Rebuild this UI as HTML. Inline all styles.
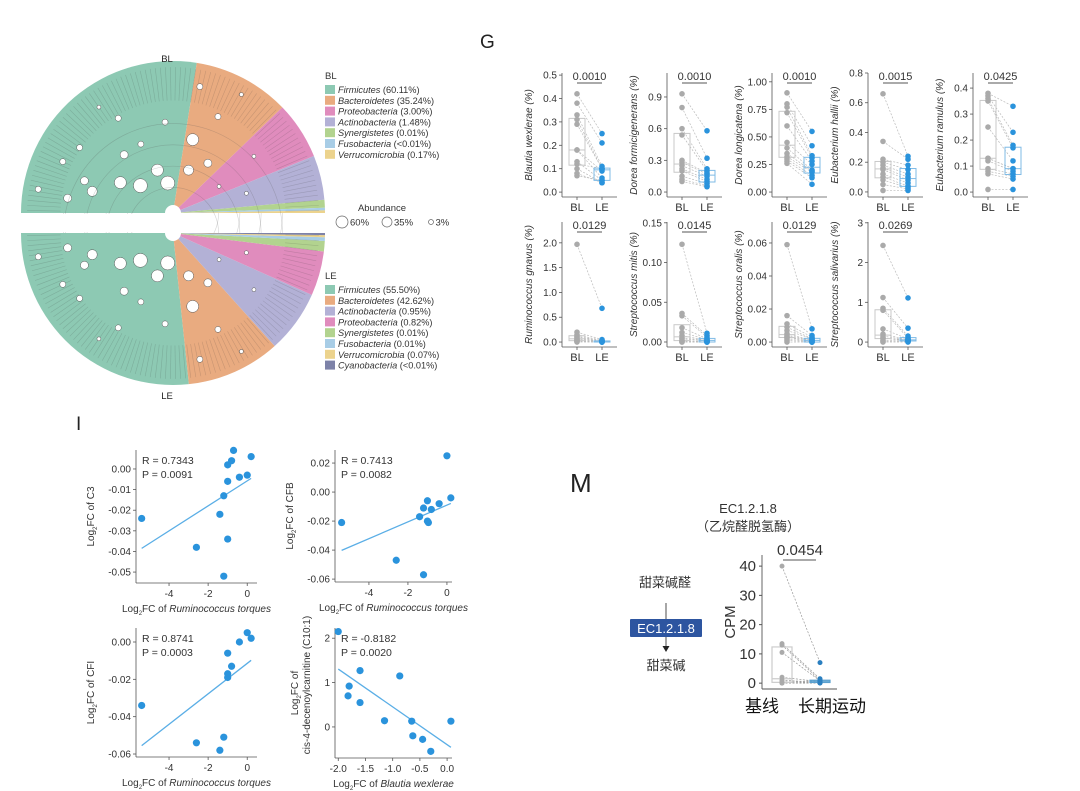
<!DOCTYPE html>
<html><head><meta charset="utf-8">
<style>
body{margin:0;background:#fff;}
svg{display:block;font-family:"Liberation Sans","Noto Sans CJK SC",sans-serif;}
</style></head>
<body>
<svg id="fig" width="1080" height="791" viewBox="0 0 1080 791" xmlns="http://www.w3.org/2000/svg">
<rect width="1080" height="791" fill="#fff"/>
<g id="tree"></g>
<g id="treeLegend"></g>
<text x="480" y="48" font-size="19" fill="#222">G</text>
<g id="panelG"></g>
<text x="76" y="430" font-size="19" fill="#222">I</text>
<g id="panelI"></g>
<text x="570" y="492" font-size="26" fill="#222">M</text>
<g id="panelM"></g>
</svg>
<script>
const NS="http://www.w3.org/2000/svg";
function mk(tag,attrs,parent,text){const e=document.createElementNS(NS,tag);for(const k in attrs)e.setAttribute(k,attrs[k]);if(text!==undefined)e.textContent=text;parent.appendChild(e);return e;}

// ---------- Tree data ----------
const blPhyla=["Firmicutes","Bacteroidetes","Proteobacteria","Actinobacteria","Synergistetes","Fusobacteria","Verrucomicrobia"];
const blPct=["(60.11%)","(35.24%)","(3.00%)","(1.48%)","(0.01%)","(<0.01%)","(0.17%)"];
const blColors=["#8dc9b3","#e9ab80","#e08cbd","#b3b1d6","#b2d38f","#a8cde6","#ecd38d"];
const blAngles=[[180,81],[81,44],[44,22],[22,5],[5,2],[2,1],[1,0]];
const lePhyla=["Firmicutes","Bacteroidetes","Actinobacteria","Proteobacteria","Synergistetes","Fusobacteria","Verrucomicrobia","Cyanobacteria"];
const lePct=["(55.50%)","(42.62%)","(0.95%)","(0.82%)","(0.01%)","(0.01%)","(0.07%)","(<0.01%)"];
const leColors=["#8dc9b3","#e9ab80","#b3b1d6","#e08cbd","#b2d38f","#a8cde6","#ecd38d","#7d82a8"];
const leAngles=[[-180,-84],[-84,-48],[-48,-24],[-24,-7],[-7,-3],[-3,-1.6],[-1.6,-0.8],[-0.8,0]];

const tree=document.getElementById('tree');
function sector(cx,cy,r,a0,a1,fill,parent,op){
  const t0=a0*Math.PI/180,t1=a1*Math.PI/180;
  const x0=cx+r*Math.cos(t0),y0=cy-r*Math.sin(t0),x1=cx+r*Math.cos(t1),y1=cy-r*Math.sin(t1);
  const large=Math.abs(a1-a0)>180?1:0;const sweep=a0>a1?1:0;
  return mk('path',{d:`M${cx},${cy}L${x0},${y0}A${r},${r} 0 ${large} ${sweep} ${x1},${y1}Z`,fill:fill,'fill-opacity':op||1},parent);
}
function drawHalf(cx,cy,r,angles,colors,names,sign,label,ly){
  angles.forEach((a,i)=>{const s=sector(cx,cy,r,a[0],a[1],colors[i],tree);
    
    });
  // darker tip band
  const lo=sign>0?0:-180,hi=sign>0?180:0;
  for(let k=0;k<90;k++){
    const a=(lo+ (k+0.5)*(hi-lo)/90)*Math.PI/180;
    const r1=r*0.74,r2=r*0.96;
    mk('line',{x1:cx+r1*Math.cos(a),y1:cy-r1*Math.sin(a),x2:cx+r2*Math.cos(a),y2:cy-r2*Math.sin(a),stroke:'#333','stroke-opacity':0.18,'stroke-width':0.6},tree);
  }
  for(let k=0;k<4;k++){const rr=r*(0.3+k*0.14);
    const a0=lo*Math.PI/180,a1=hi*Math.PI/180;
    mk('path',{d:`M${cx+rr*Math.cos(a0)},${cy-rr*Math.sin(a0)}A${rr},${rr} 0 0 ${sign>0?1:1} ${cx+rr*Math.cos(a1)},${cy-rr*Math.sin(a1)}`,fill:'none',stroke:'#555','stroke-opacity':0.25,'stroke-width':0.6},tree);}
  // nodes (decorative)
  const nodes=[[170,0.9,3],[160,0.62,4],[150,0.4,6],[140,0.28,7],[130,0.5,4],[120,0.72,3],[110,0.3,6],[100,0.2,7],[95,0.6,3],[155,0.8,3],[165,0.55,5],[125,0.85,2],[75,0.5,6],[70,0.3,5],[65,0.7,3],[60,0.9,2],[55,0.4,4],[78,0.85,3],[35,0.65,2],[30,0.35,2],[15,0.5,2],[172,0.7,4],[145,0.75,3],[115,0.5,3]];
  nodes.forEach(n=>{const a=n[0]*sign*Math.PI/180;mk('circle',{cx:cx+r*n[1]*Math.cos(a),cy:cy-r*n[1]*Math.sin(a),r:n[2],fill:'#fff',stroke:'#555','stroke-width':0.5},tree);});
  mk('circle',{cx:cx,cy:cy,r:8,fill:'#fff'},tree);
  const t=mk('text',{x:cx-6,y:ly,'font-size':9.5,fill:'#222','text-anchor':'middle'},tree,label);
  
}
drawHalf(173,213,152,blAngles,blColors,blPhyla,1,'BL',62);
drawHalf(173,233,152,leAngles,leColors,lePhyla,-1,'LE',399);
mk('rect',{x:0,y:214,width:175,height:18,fill:'#fff'},tree);

const tl=document.getElementById('treeLegend');
function legend(x,y,title,names,pct,colors,tag){
  const h=mk('text',{x:x,y:y,'font-size':9.5,fill:'#333'},tl,title);
  
  names.forEach((n,i)=>{const yy=y+14+i*10.8;
    const g=mk('g',{},tl);
    
    
    mk('rect',{x:x,y:yy-8,width:10,height:9,fill:colors[i]},g);
    const t=mk('text',{x:x+13,y:yy,'font-size':9.2,fill:'#333'},g);
    mk('tspan',{'font-style':'italic'},t,n);mk('tspan',{},t,' '+pct[i]);});
}
legend(325,79,'BL',blPhyla,blPct,blColors,'bl');
legend(325,279,'LE',lePhyla,lePct,leColors,'le');
const ab=mk('g',{},tl);
mk('text',{x:382,y:211,'font-size':9.5,fill:'#333','text-anchor':'middle'},ab,'Abundance');
[[342,222,6,'60%'],[387,222,5,'35%'],[431,222,2.5,'3%']].forEach(c=>{mk('circle',{cx:c[0],cy:c[1],r:c[2],fill:'#fff',stroke:'#666','stroke-width':0.7},ab);mk('text',{x:c[0]+c[2]+2,y:c[1]+3.5,'font-size':9.5,fill:'#333'},ab,c[3]);});

// ---------- Panel G data ----------
const gTitles=["Blautia wexlerae","Dorea formicigenerans","Dorea longicatena","Eubacterium hallii","Eubacterium ramulus","Ruminococcus gnavus","Streptococcus mitis","Streptococcus oralis","Streptococcus salivarius"];
const gP=["0.0010","0.0010","0.0010","0.0015","0.0425","0.0129","0.0145","0.0129","0.0269"];
const gBL=[
[0.42,0.38,0.33,0.31,0.29,0.18,0.13,0.10,0.08,0.07,0.12,0.18],
[0.93,0.80,0.60,0.54,0.30,0.28,0.25,0.22,0.20,0.15,0.12,0.10],
[0.90,0.80,0.77,0.72,0.60,0.45,0.40,0.35,0.32,0.30,0.28,0.26],
[0.66,0.34,0.22,0.20,0.18,0.16,0.15,0.12,0.10,0.08,0.05,0.01],
[0.38,0.37,0.36,0.35,0.25,0.13,0.12,0.09,0.08,0.07,0.01,0.13],
[1.97,0.20,0.15,0.12,0.10,0.08,0.05,0.03,0.02,0.01,0.00,0.05],
[0.123,0.036,0.033,0.018,0.012,0.008,0.004,0.002,0.001,0,0,0.005],
[0.059,0.016,0.011,0.009,0.007,0.005,0.004,0.003,0.002,0.001,0,0.003],
[2.43,1.12,0.85,0.80,0.33,0.20,0.15,0.10,0.05,0.02,0.00,0.10]];
const gLE=[
[0.25,0.21,0.11,0.10,0.10,0.09,0.05,0.04,0.04,0.05,0.10,0.06],
[0.58,0.32,0.22,0.20,0.18,0.17,0.15,0.12,0.10,0.08,0.06,0.05],
[0.55,0.42,0.33,0.31,0.28,0.25,0.20,0.19,0.18,0.15,0.13,0.07],
[0.24,0.22,0.18,0.15,0.12,0.10,0.08,0.06,0.04,0.03,0.02,0.01],
[0.33,0.23,0.18,0.17,0.12,0.09,0.08,0.07,0.06,0.05,0.01,0.09],
[0.68,0.05,0.03,0.02,0.02,0.01,0.01,0.00,0.00,0.00,0.00,0.02],
[0.011,0.008,0.006,0.004,0.003,0.002,0.001,0,0,0,0,0.002],
[0.008,0.004,0.003,0.002,0.002,0.001,0.001,0,0,0,0,0.001],
[1.11,0.35,0.15,0.10,0.08,0.06,0.05,0.03,0.02,0.01,0.00,0.05]];
const gTicks=[
["0.0","0.1","0.2","0.3","0.4","0.5"],["0.0","0.3","0.6","0.9"],["0.00","0.25","0.50","0.75","1.00"],["0.0","0.2","0.4","0.6","0.8"],["0.0","0.1","0.2","0.3","0.4"],
["0.0","0.5","1.0","1.5","2.0"],["0.00","0.05","0.10","0.15"],["0.00","0.02","0.04","0.06"],["0","1","2","3"]];
const gDomain=[[-0.021,0.509],[-0.047,1.127],[-0.045,1.08],[-0.034,0.8],[-0.019,0.458],[-0.1,2.42],[-0.0063,0.151],[-0.003,0.0727],[-0.124,3.02]];
const gAxisX=[562,667,772,868,973,562,667,772,868];

function quant(arr,q){const s=[...arr].sort((a,b)=>a-b);const p=(s.length-1)*q;const lo=Math.floor(p),hi=Math.ceil(p);return s[lo]+(s[hi]-s[lo])*(p-lo);}
const pg=document.getElementById('panelG');
gTitles.forEach((title,i)=>{
  const row=i<5?0:1;const top=row?222:73,bot=row?347:197;
  const ax=gAxisX[i],right=ax+55;
  const [lo,hi]=gDomain[i];
  const y=v=>bot-(v-lo)/(hi-lo)*(bot-top);
  const g=mk('g',{},pg);
  
  
  mk('line',{x1:ax,y1:top,x2:ax,y2:bot,stroke:'#555','stroke-width':0.8},g);
  mk('line',{x1:ax,y1:bot,x2:right,y2:bot,stroke:'#555','stroke-width':0.8},g);
  gTicks[i].forEach(t=>{const yy=y(parseFloat(t));
    mk('line',{x1:ax-3,y1:yy,x2:ax,y2:yy,stroke:'#555','stroke-width':0.8},g);
    mk('text',{x:ax-5,y:yy+3.5,'font-size':10,fill:'#333','text-anchor':'end'},g,t);});
  const xb=ax+15,xl=ax+40;
  [['BL',xb],['LE',xl]].forEach(c=>{mk('line',{x1:c[1],y1:bot,x2:c[1],y2:bot+3,stroke:'#555','stroke-width':0.8},g);
    mk('text',{x:c[1],y:bot+14,'font-size':11,fill:'#333','text-anchor':'middle'},g,c[0]);});
  const maxLab=gTicks[i][gTicks[i].length-1];
  mk('text',{x:0,y:0,'font-size':10,'font-style':'italic',fill:'#333','text-anchor':'middle',transform:`translate(${ax-30},${(top+bot)/2}) rotate(-90)`},g,title+' (%)');
  // pair lines
  gBL[i].forEach((v,k)=>mk('line',{x1:xb,y1:y(v),x2:xl,y2:y(gLE[i][k]),stroke:'#bbb','stroke-width':0.7,'stroke-dasharray':'2,1.5'},g));
  [[gBL[i],xb,'#c8c8c8','#aaa'],[gLE[i],xl,'#7fbbe6','#2a93dc']].forEach(d=>{
    const q1=quant(d[0],0.25),q2=quant(d[0],0.5),q3=quant(d[0],0.75);
    mk('rect',{x:d[1]-8,y:y(q3),width:16,height:Math.max(1,y(q1)-y(q3)),fill:'none',stroke:d[2],'stroke-width':1},g);
    mk('line',{x1:d[1]-8,y1:y(q2),x2:d[1]+8,y2:y(q2),stroke:d[2],'stroke-width':1},g);
    d[0].forEach(v=>mk('circle',{cx:d[1],cy:y(v),r:2.8,fill:d[3]},g));});
  const by=top+10;
  mk('line',{x1:xb,y1:by,x2:xl,y2:by,stroke:'#555','stroke-width':0.9},g);
  mk('text',{x:(xb+xl)/2,y:by-3,'font-size':11,fill:'#333','text-anchor':'middle'},g,gP[i]);
});

// ---------- Panel I data ----------
const sx1=[-5.4,-2.6,-1.4,-1.2,-1.2,-1.0,-1.0,-1.0,-0.8,-0.7,-0.4,0.0,0.2];
const sy1=[-0.024,-0.038,-0.022,-0.013,-0.052,-0.034,-0.006,0.002,0.004,0.009,-0.004,-0.003,0.006];
const sx2=[-5.4,-2.6,-1.4,-1.2,-1.2,-1.0,-1.0,-0.95,-0.8,-0.4,0.0,0.2];
const sy2=[-0.021,-0.047,-0.017,-0.011,-0.057,-0.006,-0.020,-0.021,-0.012,-0.008,0.025,-0.004];
const sx3=[-5.4,-2.6,-1.4,-1.2,-1.0,-1.0,-1.0,-0.8,-0.4,0.0,0.2];
const sy3=[-0.034,-0.054,-0.058,-0.051,-0.017,-0.019,-0.006,-0.013,0.000,0.005,0.002];
const sx4=[-2.0,-1.8,-1.82,-1.6,-1.6,-1.15,-0.87,-0.65,-0.63,-0.45,-0.3,0.07];
const sy4=[2.15,0.92,0.70,1.27,0.55,0.14,1.15,0.13,-0.20,-0.28,-0.55,0.13];
const sStats=[["R = 0.7343","P = 0.0091"],["R = 0.7413","P = 0.0082"],["R = 0.8741","P = 0.0003"],["R = -0.8182","P = 0.0020"]];
const sYTicks=[["0.00","-0.01","-0.02","-0.03","-0.04","-0.05"],["0.02","0.00","-0.02","-0.04","-0.06"],["0.00","-0.02","-0.04","-0.06"],["2","1","0"]];
const sXTicks=[["-4","-2","0"],["-4","-2","0"],["-4","-2","0"],["-2.0","-1.5","-1.0","-0.5","0.0"]];
const sYTitle=["Log2FC of C3","Log2FC of CFB","Log2FC of CFI","cis-4-decenoylcarnitine (C10:1)"];
const sXTitle=["Ruminococcus torques","Ruminococcus torques","Ruminococcus torques","Blautia wexlerae"];
const sets=[[sx1,sy1],[sx2,sy2],[sx3,sy3],[sx4,sy4]];
const sBox=[[136,450,257,583],[335,450,452,582],[136,628,257,757],[335,628,452,758]];
const sXDom=[[-5.69,0.5],[-5.74,0.26],[-5.69,0.5],[-2.06,0.09]];
const sYDom=[[-0.0553,0.0092],[-0.062,0.029],[-0.0616,0.0075],[-0.70,2.23]];

const pi=document.getElementById('panelI');
sets.forEach((s,i)=>{
  const [L,T,R,B]=sBox[i];const xd=sXDom[i],yd=sYDom[i];
  const X=v=>L+(v-xd[0])/(xd[1]-xd[0])*(R-L), Y=v=>B-(v-yd[0])/(yd[1]-yd[0])*(B-T);
  const g=mk('g',{},pi);
  
  
  mk('line',{x1:L,y1:T,x2:L,y2:B,stroke:'#555','stroke-width':0.8},g);
  mk('line',{x1:L,y1:B,x2:R,y2:B,stroke:'#555','stroke-width':0.8},g);
  sYTicks[i].forEach(t=>{const yy=Y(parseFloat(t));mk('line',{x1:L-3,y1:yy,x2:L,y2:yy,stroke:'#555','stroke-width':0.8},g);
    mk('text',{x:L-5,y:yy+3.5,'font-size':10,fill:'#333','text-anchor':'end'},g,t);});
  sXTicks[i].forEach(t=>{const xx=X(parseFloat(t));mk('line',{x1:xx,y1:B,x2:xx,y2:B+3,stroke:'#555','stroke-width':0.8},g);
    mk('text',{x:xx,y:B+14,'font-size':10,fill:'#333','text-anchor':'middle'},g,t);});
  // regression
  const xs=s[0],ys=s[1],n=xs.length;const mx=xs.reduce((a,b)=>a+b)/n,my=ys.reduce((a,b)=>a+b)/n;
  let sxy=0,sxx=0;xs.forEach((x,k)=>{sxy+=(x-mx)*(ys[k]-my);sxx+=(x-mx)*(x-mx);});
  const b=sxy/sxx,a=my-b*mx;const x0=Math.min(...xs),x1=Math.max(...xs);
  const fl=mk('line',{x1:X(x0),y1:Y(a+b*x0),x2:X(x1),y2:Y(a+b*x1),stroke:'#5aaee6','stroke-width':1.3},g);
  
  xs.forEach((x,k)=>mk('circle',{cx:X(x),cy:Y(ys[k]),r:3.6,fill:'#2a93dc'},g));
  mk('text',{x:L+6,y:T+14,'font-size':10.5,fill:'#333'},g,sStats[i][0]);
  mk('text',{x:L+6,y:T+28,'font-size':10.5,fill:'#333'},g,sStats[i][1]);
  const xt=mk('text',{x:(L+R)/2,y:B+29,'font-size':10,fill:'#333','text-anchor':'middle'},g);
  mk('tspan',{},xt,'Log');mk('tspan',{'font-size':6,dy:3},xt,'2');mk('tspan',{dy:-3},xt,'FC of ');mk('tspan',{'font-style':'italic'},xt,sXTitle[i]);
  if(i<3){const yt=mk('text',{'font-size':10,fill:'#333','text-anchor':'middle',transform:`translate(${L-42},${(T+B)/2}) rotate(-90)`},g);
    const parts=sYTitle[i].split('2');mk('tspan',{},yt,'Log');mk('tspan',{'font-size':6,dy:3},yt,'2');mk('tspan',{dy:-3},yt,parts[1]);}
  else{const yt=mk('text',{'font-size':10,fill:'#333','text-anchor':'middle',transform:`translate(${L-37},${(T+B)/2}) rotate(-90)`},g);
    mk('tspan',{},yt,'Log');mk('tspan',{'font-size':6,dy:3},yt,'2');mk('tspan',{dy:-3},yt,'FC of');
    mk('text',{'font-size':10,fill:'#333','text-anchor':'middle',transform:`translate(${L-25},${(T+B)/2-8}) rotate(-90)`},g,sYTitle[i]);}
});

// ---------- Panel M data ----------
const mBL=[40,13.5,13,10.5,2,1,0.5,0,0,0.2];
const mLE=[7,1.5,1,0.8,0.5,0.3,0.2,0,0.1,1];
const mTicks=["0","10","20","30","40"];
const mP="0.0454";
const pm=document.getElementById('panelM');
mk('text',{x:748,y:513,'font-size':13,fill:'#333','text-anchor':'middle'},pm,'EC1.2.1.8');
mk('text',{x:748,y:531,'font-size':13,fill:'#333','text-anchor':'middle'},pm,'（乙烷醛脱氢酶）');
mk('text',{x:665,y:587,'font-size':13,fill:'#333','text-anchor':'middle'},pm,'甜菜碱醛');
mk('line',{x1:666,y1:603,x2:666,y2:651,stroke:'#222','stroke-width':0.8},pm);
mk('path',{d:'M662.5,646 L669.5,646 L666,652 Z',fill:'#222'},pm);
const eb=mk('rect',{x:630,y:619,width:72,height:18,fill:'#2d55a0',rx:1},pm);

mk('text',{x:666,y:633,'font-size':13,fill:'#fff','text-anchor':'middle'},pm,'EC1.2.1.8');
mk('text',{x:666,y:670,'font-size':13,fill:'#333','text-anchor':'middle'},pm,'甜菜碱');
const mg=mk('g',{},pm);
const mL=762,mT=555,mR=837,mB=689,mD=[-2,43.8];
const mY=v=>mB-(v-mD[0])/(mD[1]-mD[0])*(mB-mT);
mk('line',{x1:mL,y1:mT,x2:mL,y2:mB,stroke:'#555','stroke-width':0.9},mg);
mk('line',{x1:mL,y1:mB,x2:mR,y2:mB,stroke:'#555','stroke-width':0.9},mg);
mTicks.forEach(t=>{const yy=mY(+t);mk('line',{x1:mL-3,y1:yy,x2:mL,y2:yy,stroke:'#555'},mg);
  mk('text',{x:mL-6,y:yy+5,'font-size':15,fill:'#333','text-anchor':'end'},mg,t);});
mk('text',{'font-size':15,fill:'#333','text-anchor':'middle',transform:`translate(735,${(mT+mB)/2}) rotate(-90)`},mg,'CPM');
const xb=782,xl=820;
mBL.forEach((v,k)=>mk('line',{x1:xb,y1:mY(v),x2:xl,y2:mY(mLE[k]),stroke:'#999','stroke-width':0.7,'stroke-dasharray':'2,1.5'},mg));
[[mBL,xb,'#ccc','#aaa'],[mLE,xl,'#5aa0cf','#2a7fc0']].forEach(d=>{
  const q1=quant(d[0],0.25),q2=quant(d[0],0.5),q3=quant(d[0],0.75);
  mk('rect',{x:d[1]-10,y:mY(q3),width:20,height:Math.max(1.5,mY(q1)-mY(q3)),fill:'none',stroke:d[2],'stroke-width':1.2},mg);
  mk('line',{x1:d[1]-10,y1:mY(q2),x2:d[1]+10,y2:mY(q2),stroke:d[2],'stroke-width':1.2},mg);
  d[0].forEach(v=>mk('circle',{cx:d[1],cy:mY(v),r:2.5,fill:d[3]},mg));});
mk('line',{x1:783,y1:560,x2:816,y2:560,stroke:'#555','stroke-width':1},mg);
mk('text',{x:800,y:555,'font-size':15,fill:'#333','text-anchor':'middle'},mg,mP);
mk('text',{x:762,y:712,'font-size':17,fill:'#111','text-anchor':'middle'},mg,'基线');
mk('text',{x:832,y:712,'font-size':17,fill:'#111','text-anchor':'middle'},mg,'长期运动');
</script>
</body></html>
